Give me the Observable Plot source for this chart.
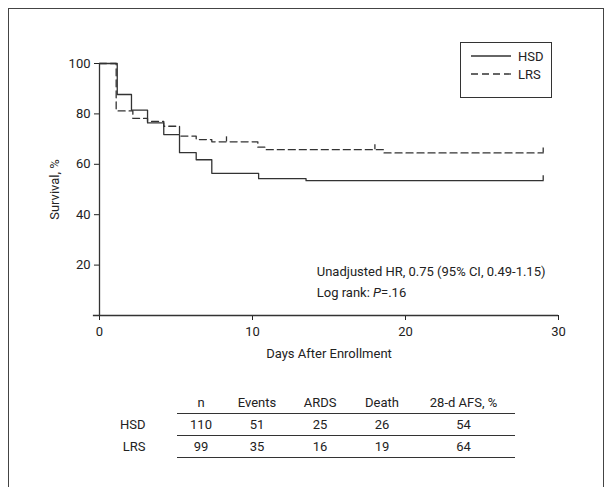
<!DOCTYPE html>
<html>
<head>
<meta charset="utf-8">
<script src="https://cdn.jsdelivr.net/npm/d3@7"></script>
<script src="https://cdn.jsdelivr.net/npm/@observablehq/plot@0.6"></script>
<style>
  body { margin: 0; background: #fff; font-family: Roboto, "Liberation Sans", Arial, sans-serif; color: #222; }
  #frame { position: absolute; left: 8px; top: 8px; width: 594px; height: 490px; border: 1px solid #444; }
  #chart1 { position: absolute; left: 0; top: 0; }
  #legend { position: absolute; left: 460px; top: 42px; width: 90px; height: 54px; border: 1px solid #333; background: #fff; font-size: 13px; }
  #tbl { position: absolute; left: 120px; top: 392px; border-collapse: collapse; font-size: 13px; }
  #tbl td { text-align: center; padding: 1px 0; height: 19px; }
  #tbl td.lab { text-align: right; padding-right: 31px; }
</style>
</head>
<body>
<div id="frame"></div>
<div id="chart1"></div>
<div id="legend"></div>
<table id="tbl"></table>
<script>
const hsdDays = [0, 1.16, 2.09, 3.14, 4.2, 5.23, 6.32, 7.34, 10.4, 13.5, 29]
const hsdSurv = [100, 87.7, 81.5, 76.4, 71.8, 64.6, 61.8, 56.4, 54.3, 53.5, 53.5]
const lrsDays = [0, 1.09, 2.18, 3.14, 4.2, 5.23, 6.32, 7.34, 10.35, 10.85, 18.6, 29]
const lrsSurv = [100, 81.2, 78.2, 77.0, 75.1, 71.2, 69.8, 68.9, 66.8, 65.8, 64.5, 64.5]
const lrsCensor = [8.3, 18.0]

const groups = ["HSD", "LRS"]
const columns = ["n", "Events", "ARDS", "Death", "28-d AFS, %"]
const tableHSD = [110, 51, 25, 26, 54]
const tableLRS = [99, 35, 16, 19, 64]
const colWidths = [49, 63, 63, 61, 102]

let hsd = hsdDays.map((d, i) => ({ day: d, surv: hsdSurv[i] }))
let lrs = lrsDays.map((d, i) => ({ day: d, surv: lrsSurv[i] }))
let lrsTicks = lrsCensor.map(d => ({ day: d, surv: lrs.filter(p => p.day <= d).at(-1).surv }))
let ends = [hsd.at(-1), lrs.at(-1)]

let chart1 = Plot.plot({
  width: 611,
  height: 370,
  marginLeft: 99,
  marginRight: 53,
  marginTop: 63,
  marginBottom: 55,
  style: { fontFamily: "Roboto, 'Liberation Sans', Arial, sans-serif", fontSize: "13px", color: "#222", background: "transparent" },
  x: { domain: [0, 30] },
  y: { domain: [0, 100] },
  marks: [
    Plot.axisX({ ticks: [0, 10, 20, 30], tickSize: 5, tickPadding: 6, label: "Days After Enrollment", labelAnchor: "center", labelArrow: "none", labelOffset: 42, fontSize: 13 }),
    Plot.axisY({ ticks: [20, 40, 60, 80, 100], tickSize: 5, label: "Survival, %", labelAnchor: "center", labelArrow: "none", labelOffset: 50, fontSize: 13 }),
    Plot.ruleY([0], { x1: -0.4, x2: 30, stroke: "#333", strokeWidth: 1.3 }),
    Plot.ruleX([0], { stroke: "#333", strokeWidth: 1.3 }),
    Plot.line(hsd, { x: "day", y: "surv", curve: "step-after", stroke: "#333", strokeWidth: 1.3 }),
    Plot.line(lrs, { x: "day", y: "surv", curve: "step-after", stroke: "#333", strokeWidth: 1.3, strokeDasharray: "7,4" }),
    Plot.ruleX(ends.concat(lrsTicks), { x: "day", y1: "surv", y2: d => d.surv + 2, stroke: "#333", strokeWidth: 1.3 }),
    Plot.text(["Unadjusted HR, 0.75 (95% CI, 0.49-1.15)", "Log rank: P=.16"], {
      x: 14.2, y: [17.5, 9], text: d => d, textAnchor: "start", fontSize: 13, fill: "#222"
    })
  ]
})
d3.select("#chart1").append(() => chart1)

// italic P in the log rank line
d3.select(chart1).selectAll("text").filter(function () { return this.textContent === "Log rank: P=.16" })
  .each(function () {
    let t = d3.select(this)
    t.text(null)
    t.append("tspan").text("Log rank: ")
    t.append("tspan").attr("font-style", "italic").text("P")
    t.append("tspan").text("=.16")
  })

// legend
let lg = d3.select("#legend").append("svg").attr("width", 90).attr("height", 54)
groups.forEach((g, i) => {
  lg.append("line").attr("x1", 10).attr("x2", 50).attr("y1", 13 + i * 18).attr("y2", 13 + i * 18)
    .attr("stroke", "#333").attr("stroke-width", 1.3).attr("stroke-dasharray", i ? "7,4" : null)
  lg.append("text").attr("x", 57).attr("y", 18 + i * 18).attr("font-size", 13).attr("fill", "#222").text(g)
})

// table
let tb = d3.select("#tbl")
let head = tb.append("tr")
head.append("td").attr("class", "lab")
columns.forEach((c, i) => head.append("td").style("width", colWidths[i] + "px").style("border-bottom", "1px solid #333").text(c))
;[tableHSD, tableLRS].forEach((row, r) => {
  let tr = tb.append("tr")
  tr.append("td").attr("class", "lab").text(groups[r])
  row.forEach(v => tr.append("td").style("border-bottom", "1px solid #333").text(v))
})
</script>
</body>
</html>
